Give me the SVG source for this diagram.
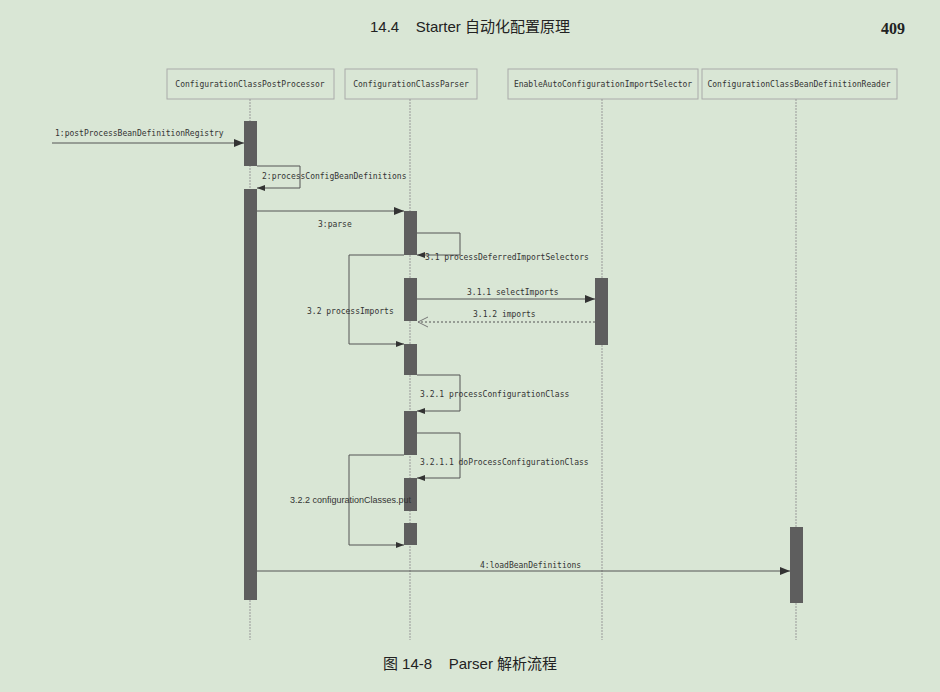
<svg xmlns="http://www.w3.org/2000/svg" width="940" height="692" viewBox="0 0 940 692">
<defs>
<style>
.hd{fill:none;stroke:#aaa;stroke-width:1}
.ht{font-family:"DejaVu Sans Mono",monospace;font-size:8px;fill:#333;text-anchor:middle}
.ll{stroke:#999;stroke-width:1;stroke-dasharray:2 1}
.act{fill:#5e5e5e}
.m{fill:none;stroke:#555;stroke-width:1}
.ml{font-family:"DejaVu Sans Mono",monospace;font-size:8px;fill:#333}
</style>
<marker id="a" markerWidth="10" markerHeight="8" refX="10" refY="4" orient="auto" markerUnits="userSpaceOnUse"><path d="M0,0 L10,4 L0,8z" fill="#333"/></marker>
<marker id="s" markerWidth="8" markerHeight="6" refX="8" refY="3" orient="auto" markerUnits="userSpaceOnUse"><path d="M0,0 L8,3 L0,6z" fill="#333"/></marker>
<marker id="o" markerWidth="12" markerHeight="12" refX="11" refY="6" orient="auto" markerUnits="userSpaceOnUse"><path d="M1,1 L11,6 L1,11" fill="none" stroke="#777"/></marker>
</defs>
<rect width="940" height="692" fill="#d9e6d5"/>
<text x="470" y="32" xml:space="preserve" font-family="Liberation Sans,Noto Sans CJK SC,sans-serif" font-size="15" fill="#222" text-anchor="middle">14.4    Starter 自动化配置原理</text>
<text x="905" y="34" font-family="Liberation Serif,serif" font-size="16" font-weight="bold" fill="#222" text-anchor="end">409</text>
<text x="470" y="669" xml:space="preserve" font-family="Liberation Sans,Noto Sans CJK SC,sans-serif" font-size="15" fill="#222" text-anchor="middle">图 14-8    Parser 解析流程</text>
<g id="n1"><rect class="hd" x="167" y="69" width="167" height="30"/><text class="ht" x="250" y="87">ConfigurationClassPostProcessor</text><line class="ll" x1="250" y1="99" x2="250" y2="640"/><rect class="act" x="244" y="121" width="13" height="45"/><rect class="act" x="244" y="189" width="13" height="411"/></g>
<g id="n2"><rect class="hd" x="345" y="69" width="132" height="30"/><text class="ht" x="411" y="87">ConfigurationClassParser</text><line class="ll" x1="410" y1="99" x2="410" y2="640"/><rect class="act" x="404" y="211" width="13" height="44"/><rect class="act" x="404" y="278" width="13" height="43"/><rect class="act" x="404" y="344" width="13" height="31"/><rect class="act" x="404" y="411" width="13" height="44"/><rect class="act" x="404" y="478" width="13" height="33"/><rect class="act" x="404" y="523" width="13" height="22"/></g>
<g id="n3"><rect class="hd" x="508" y="69" width="190" height="30"/><text class="ht" x="603" y="87">EnableAutoConfigurationImportSelector</text><line class="ll" x1="602" y1="99" x2="602" y2="640"/><rect class="act" x="595" y="278" width="13" height="67"/></g>
<g id="n4"><rect class="hd" x="702" y="69" width="195" height="30"/><text class="ht" x="799" y="87">ConfigurationClassBeanDefinitionReader</text><line class="ll" x1="796" y1="99" x2="796" y2="640"/><rect class="act" x="790" y="527" width="13" height="76"/></g>
<g id="connectors">
<path class="m" d="M52,143 H244" marker-end="url(#a)"/><text class="ml" x="55" y="136">1:postProcessBeanDefinitionRegistry</text>
<path class="m" d="M257,166 H300 V188 H257" marker-end="url(#s)"/><text class="ml" x="262" y="179">2:processConfigBeanDefinitions</text>
<path class="m" d="M257,211 H404" marker-end="url(#a)"/><text class="ml" x="318" y="227">3:parse</text>
<path class="m" d="M417,233 H460 V255 H417" marker-end="url(#s)"/><text class="ml" x="425" y="260">3.1 processDeferredImportSelectors</text>
<path class="m" d="M404,255 H349 V344 H404" marker-end="url(#s)"/><text class="ml" x="307" y="314">3.2 processImports</text>
<path class="m" d="M417,299 H595" marker-end="url(#a)"/><text class="ml" x="467" y="295">3.1.1 selectImports</text>
<path class="m" d="M595,322 H418" stroke-dasharray="2 2" marker-end="url(#o)"/><text class="ml" x="473" y="317">3.1.2 imports</text>
<path class="m" d="M417,375 H460 V411 H417" marker-end="url(#s)"/><text class="ml" x="420" y="397">3.2.1 processConfigurationClass</text>
<path class="m" d="M417,433 H460 V478 H417" marker-end="url(#s)"/><text class="ml" x="420" y="465">3.2.1.1 doProcessConfigurationClass</text>
<path class="m" d="M404,455 H349 V545 H404" marker-end="url(#s)"/><text x="290" y="503" font-family="Liberation Sans,sans-serif" font-size="9" fill="#333">3.2.2 configurationClasses.put</text>
<path class="m" d="M257,571 H790" marker-end="url(#a)"/><text class="ml" x="480" y="568">4:loadBeanDefinitions</text>
</g>
</svg>
